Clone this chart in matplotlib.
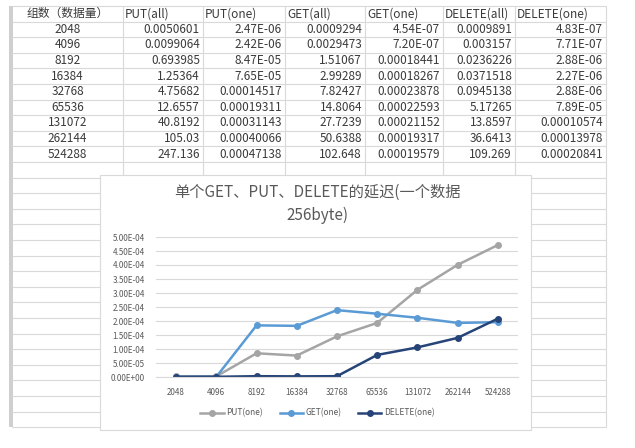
import matplotlib
matplotlib.use("Agg")
import matplotlib.pyplot as plt
from matplotlib.patches import Rectangle

plt.rcParams["font.family"] = ["Noto Sans CJK SC", "DejaVu Sans"]

# spreadsheet contents, as shown in the cells
headers = ["组数（数据量）", "PUT(all)", "PUT(one)", "GET(all)", "GET(one)",
           "DELETE(all)", "DELETE(one)"]
sizes = ["2048", "4096", "8192", "16384", "32768", "65536", "131072", "262144", "524288"]
put_all = ["0.0050601", "0.0099064", "0.693985", "1.25364", "4.75682", "12.6557",
           "40.8192", "105.03", "247.136"]
put_one = ["2.47E-06", "2.42E-06", "8.47E-05", "7.65E-05", "0.00014517", "0.00019311",
           "0.00031143", "0.00040066", "0.00047138"]
get_all = ["0.0009294", "0.0029473", "1.51067", "2.99289", "7.82427", "14.8064",
           "27.7239", "50.6388", "102.648"]
get_one = ["4.54E-07", "7.20E-07", "0.00018441", "0.00018267", "0.00023878",
           "0.00022593", "0.00021152", "0.00019317", "0.00019579"]
del_all = ["0.0009891", "0.003157", "0.0236226", "0.0371518", "0.0945138", "5.17265",
           "13.8597", "36.6413", "109.269"]
del_one = ["4.83E-07", "7.71E-07", "2.88E-06", "2.27E-06", "2.88E-06", "7.89E-05",
           "0.00010574", "0.00013978", "0.00020841"]

chart_title = "单个GET、PUT、DELETE的延迟(一个数据\n256byte)"
y_ticks = [0, 5e-5, 1e-4, 1.5e-4, 2e-4, 2.5e-4, 3e-4, 3.5e-4, 4e-4, 4.5e-4, 5e-4]

W, H = 635, 448
fig = plt.figure(figsize=(W / 100, H / 100), dpi=100)

# sheet layer in pixel coordinates
sheet = fig.add_axes([0, 0, 1, 1])
sheet.set_xlim(0, W)
sheet.set_ylim(H, 0)
sheet.axis("off")

col_edges = [12, 123, 203, 285, 365, 443, 515, 606]
row_top = 6
row_h = 15.6
n_rows = 27
row_lines = [row_top + i * row_h for i in range(n_rows + 1)]
sheet_bottom = row_lines[-1]

grid_c = "#d9d9d9"
sheet.hlines(row_lines, col_edges[0], col_edges[-1], color=grid_c, lw=0.8)
sheet.vlines(col_edges[1:], row_top, sheet_bottom, color=grid_c, lw=0.8)
sheet.add_patch(Rectangle((9, row_top), 4, sheet_bottom - row_top,
                          color="#cfcfcf", lw=0))

columns = [sizes, put_all, put_one, get_all, get_one, del_all, del_one]
txt_c = "#3a3a3a"
fs = 8.5
for j, head in enumerate(headers):
    yc = row_top + row_h / 2
    if j == 0:
        sheet.text((col_edges[0] + col_edges[1]) / 2, yc, head, ha="center",
                   va="center", fontsize=fs, color=txt_c)
    else:
        sheet.text(col_edges[j] + 2, yc, head, ha="left", va="center",
                   fontsize=fs, color=txt_c)
    for i, val in enumerate(columns[j]):
        yc = row_top + (i + 1.5) * row_h
        if j == 0:
            sheet.text((col_edges[0] + col_edges[1]) / 2, yc, val, ha="center",
                       va="center", fontsize=fs, color=txt_c)
        else:
            sheet.text(col_edges[j + 1] - 3, yc, val, ha="right", va="center",
                       fontsize=fs, color=txt_c)

# chart object box
cx0, cx1, cy0, cy1 = 100, 531, 175, 430
sheet.add_patch(Rectangle((cx0, cy0), cx1 - cx0, cy1 - cy0, facecolor="white",
                          edgecolor="#d9d9d9", lw=0.8, zorder=3))
sheet.text((cx0 + cx1) / 2 + 2, 204, chart_title, ha="center", va="center",
           fontsize=11, color="#595959", linespacing=1.4, zorder=4)

# plot area
px0, px1, py0, py1 = 156, 518, 237, 377
ax = fig.add_axes([px0 / W, (H - py1) / H, (px1 - px0) / W, (py1 - py0) / H])
ax.set_facecolor("none")
x = list(range(len(sizes)))
series = [("PUT(one)", put_one, "#a5a5a5"),
          ("GET(one)", get_one, "#5b9bd5"),
          ("DELETE(one)", del_one, "#264478")]
for name, vals, col in series:
    ax.plot(x, [float(v) for v in vals], color=col, lw=1.8, marker="o",
            markersize=4, label=name)

ax.set_xlim(-0.5, len(sizes) - 0.5)
ax.set_ylim(0, 5e-4)
ax.set_yticks(y_ticks)
ax.set_yticklabels([f"{v:.2E}" for v in y_ticks])
ax.set_xticks(x)
ax.set_xticklabels(sizes)
ax.tick_params(length=0, labelsize=5.8, colors="#595959", pad=8)
ax.tick_params(axis="y", pad=8)
ax.grid(axis="y", color="#d9d9d9", lw=0.8)
ax.set_axisbelow(True)
for s in ["top", "right", "left"]:
    ax.spines[s].set_visible(False)
ax.spines["bottom"].set_color("#d9d9d9")

fig.legend(loc="center", bbox_to_anchor=(0.5, (H - 413) / H), ncol=3,
           frameon=False, fontsize=6, handlelength=2.8, columnspacing=2.0,
           handletextpad=0.3, labelcolor="#595959")

fig.savefig("out.png", dpi=100)
